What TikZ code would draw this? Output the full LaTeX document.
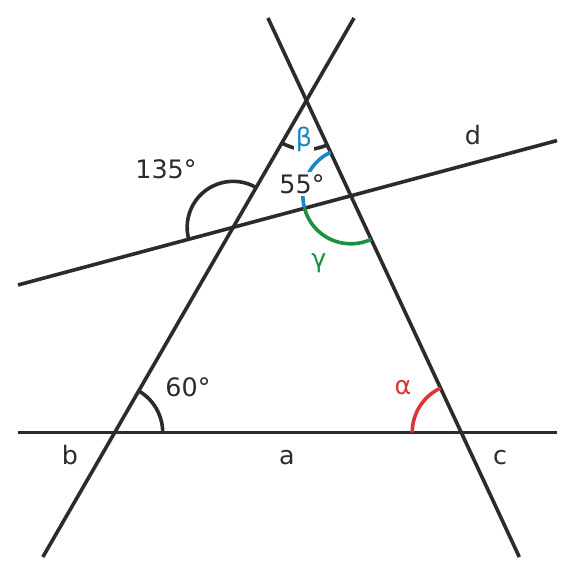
\documentclass[tikz,border=0pt]{standalone}
\usepackage{fontspec}
\setmainfont{DejaVu Sans}
\usetikzlibrary{intersections}
\definecolor{ink}{HTML}{2B2B2B}
\definecolor{angblue}{HTML}{1A87C4}
\definecolor{anggreen}{HTML}{1B9140}
\definecolor{angred}{HTML}{D93636}
\begin{document}
\begin{tikzpicture}[x=0.5pt,y=0.5pt,
  lineseg/.style={draw=ink,line width=1.8pt},
  angarc/.style={line width=1.8pt},
  lbl/.style={font=\fontsize{12.7}{15}\selectfont,text=ink,inner sep=1pt}]
\useasboundingbox (0,0) rectangle (576,576);
% line end points
\coordinate (a1) at (18,143.5);     \coordinate (a2) at (557,143.5);
\coordinate (b1) at (42.83,19);   \coordinate (b2) at (354.02,558);
\coordinate (c1) at (267.95,558); \coordinate (c2) at (519.29,19);
\coordinate (d1) at (18,291);     \coordinate (d2) at (557,435.42);
% lines
\draw[lineseg,name path=la] (a1) -- (a2);
\draw[lineseg,name path=lb] (b1) -- (b2);
\draw[lineseg,name path=lc] (c1) -- (c2);
\draw[lineseg,name path=ld] (d1) -- (d2);
% intersections
\path[name intersections={of=la and lb,by=Pab}];
\path[name intersections={of=la and lc,by=Pac}];
\path[name intersections={of=lb and lc,by=Pbc}];
\path[name intersections={of=lb and ld,by=Pbd}];
\path[name intersections={of=lc and ld,by=Pcd}];
% angle arcs
\draw[angarc,ink] ([shift={(0:24pt)}]Pab) arc[start angle=0,end angle=60,radius=24pt];
\draw[angarc,angred] ([shift={(115:24.5pt)}]Pac) arc[start angle=115,end angle=180,radius=24.5pt];
\draw[angarc,ink] ([shift={(240:24.5pt)}]Pbc) arc[start angle=240,end angle=295,radius=24.5pt];
\draw[angarc,ink] ([shift={(60:23pt)}]Pbd) arc[start angle=60,end angle=195,radius=23pt];
\draw[angarc,angblue] ([shift={(115:24pt)}]Pcd) arc[start angle=115,end angle=195,radius=24pt];
\draw[angarc,anggreen] ([shift={(195:24pt)}]Pcd) arc[start angle=195,end angle=295,radius=24pt];
% labels
\node[lbl] (t135) at (166,407) {135°};
\node[lbl,fill=white] (t55) at (302,392) {55°};
\node[lbl] (t60) at (188,189) {60°};
\node[lbl,text=angred] (talpha) at (403,188) {α};
\node[lbl,text=angblue,fill=white] (tbeta) at (304,437) {β};
\node[lbl,text=anggreen] (tgamma) at (319,313) {γ};
\node[lbl] (ta) at (287,118) {a};
\node[lbl] (tb) at (70,121) {b};
\node[lbl] (tc) at (500,118) {c};
\node[lbl] (td) at (473,440.5) {d};
\end{tikzpicture}
\end{document}
